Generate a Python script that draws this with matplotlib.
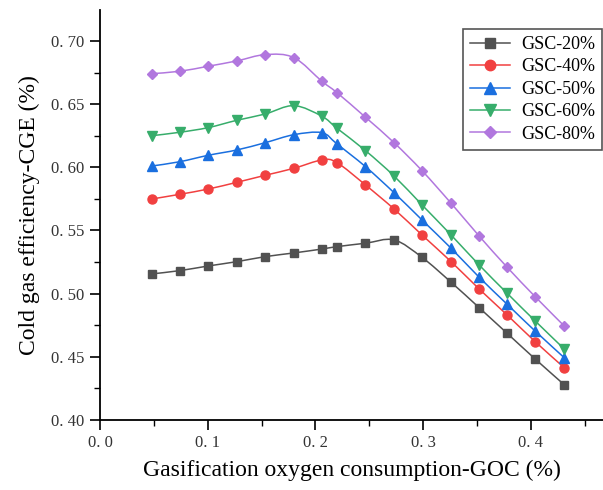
"""Cold gas efficiency vs gasification oxygen consumption for several GSC levels."""

import matplotlib

matplotlib.use("Agg")
import matplotlib.pyplot as plt
from matplotlib.lines import Line2D
from matplotlib.patches import PathPatch
from matplotlib.path import Path
from matplotlib.ticker import FuncFormatter, MultipleLocator

goc = [0.048, 0.074, 0.1005, 0.127, 0.1535, 0.180, 0.206, 0.220,
       0.2465, 0.273, 0.299, 0.326, 0.352, 0.378, 0.404, 0.431]

gsc_20 = [0.5156, 0.5182, 0.5219, 0.5253, 0.5293, 0.5322, 0.5353, 0.5372,
          0.5399, 0.5425, 0.5287, 0.5090, 0.4889, 0.4686, 0.4483, 0.4279]
gsc_40 = [0.5749, 0.5786, 0.5828, 0.5881, 0.5937, 0.5992, 0.6058, 0.6037,
          0.5860, 0.5670, 0.5464, 0.5253, 0.5037, 0.4831, 0.4620, 0.4414]
gsc_50 = [0.6010, 0.6044, 0.6095, 0.6137, 0.6195, 0.6258, 0.6274, 0.6185,
          0.6005, 0.5799, 0.5583, 0.5359, 0.5130, 0.4916, 0.4704, 0.4493]
gsc_60 = [0.6250, 0.6277, 0.6314, 0.6372, 0.6422, 0.6488, 0.6404, 0.6309,
          0.6132, 0.5931, 0.5702, 0.5464, 0.5227, 0.5003, 0.4784, 0.4562]
gsc_80 = [0.6741, 0.6760, 0.6800, 0.6842, 0.6892, 0.6868, 0.6681, 0.6591,
          0.6396, 0.6195, 0.5973, 0.5715, 0.5456, 0.5209, 0.4976, 0.4744]

labels = ["GSC-20%", "GSC-40%", "GSC-50%", "GSC-60%", "GSC-80%"]
colors = ["#515151", "#F14040", "#1A6FDF", "#37AD6B", "#B177DE"]
markers = ["s", "o", "^", "v", "D"]
sizes = [6, 6.5, 7, 7, 5.5]


def spline_path(x, y):
    """Catmull-Rom curve through the points, as cubic Bezier segments."""
    pts = list(zip(x, y))
    n = len(pts)
    verts = [pts[0]]
    codes = [Path.MOVETO]
    for i in range(n - 1):
        p0 = pts[max(i - 1, 0)]
        p1 = pts[i]
        p2 = pts[i + 1]
        p3 = pts[min(i + 2, n - 1)]
        c1 = (p1[0] + (p2[0] - p0[0]) / 6, p1[1] + (p2[1] - p0[1]) / 6)
        c2 = (p2[0] - (p3[0] - p1[0]) / 6, p2[1] - (p3[1] - p1[1]) / 6)
        verts += [c1, c2, p2]
        codes += [Path.CURVE4] * 3
    return Path(verts, codes)


plt.rcParams["font.family"] = ["Liberation Serif", "DejaVu Serif"]

fig = plt.figure(figsize=(6.03, 4.90), dpi=100)
ax = fig.add_axes([0.1658, 0.1429, 0.8342, 0.8367])

series = [gsc_20, gsc_40, gsc_50, gsc_60, gsc_80]
handles = []
for vals, lab, col, mk, ms in zip(series, labels, colors, markers, sizes):
    ax.add_patch(PathPatch(spline_path(goc, vals), facecolor="none",
                           edgecolor=col, lw=1.1, zorder=2))
    ax.plot(goc, vals, linestyle="none", marker=mk, ms=ms, color=col, zorder=3)
    handles.append(Line2D([], [], color=col, lw=1.1, marker=mk, ms=ms + 1))

ax.set_xlim(0, 0.467)
ax.set_ylim(0.40, 0.7245)

ax.xaxis.set_major_locator(MultipleLocator(0.1))
ax.xaxis.set_minor_locator(MultipleLocator(0.05))
ax.yaxis.set_major_locator(MultipleLocator(0.05))
ax.yaxis.set_minor_locator(MultipleLocator(0.025))
ax.xaxis.set_major_formatter(FuncFormatter(lambda v, p: f"{v:.1f}".replace(".", ". ")))
ax.yaxis.set_major_formatter(FuncFormatter(lambda v, p: f"{v:.2f}".replace(".", ". ")))

ax.tick_params(which="major", direction="out", length=7, width=1.2,
               labelsize=12, labelcolor="#333333", pad=4)
ax.tick_params(which="minor", direction="out", length=4, width=1.0)

for side in ["top", "right"]:
    ax.spines[side].set_visible(False)
for side in ["left", "bottom"]:
    ax.spines[side].set_linewidth(1.3)

ax.set_xlabel("Gasification oxygen consumption-GOC (%)", fontsize=17, labelpad=6)
ax.set_ylabel("Cold gas efficiency-CGE (%)", fontsize=17, labelpad=8)

leg = ax.legend(handles, labels, loc="upper right", bbox_to_anchor=(0.998, 0.954),
                borderaxespad=0, fontsize=13, handlelength=2.2, labelspacing=0.3,
                borderpad=0.4, handletextpad=0.6, fancybox=False, framealpha=1)
leg.get_frame().set_edgecolor("#555555")
leg.get_frame().set_linewidth(1.2)

fig.savefig("out.png", dpi=100)
